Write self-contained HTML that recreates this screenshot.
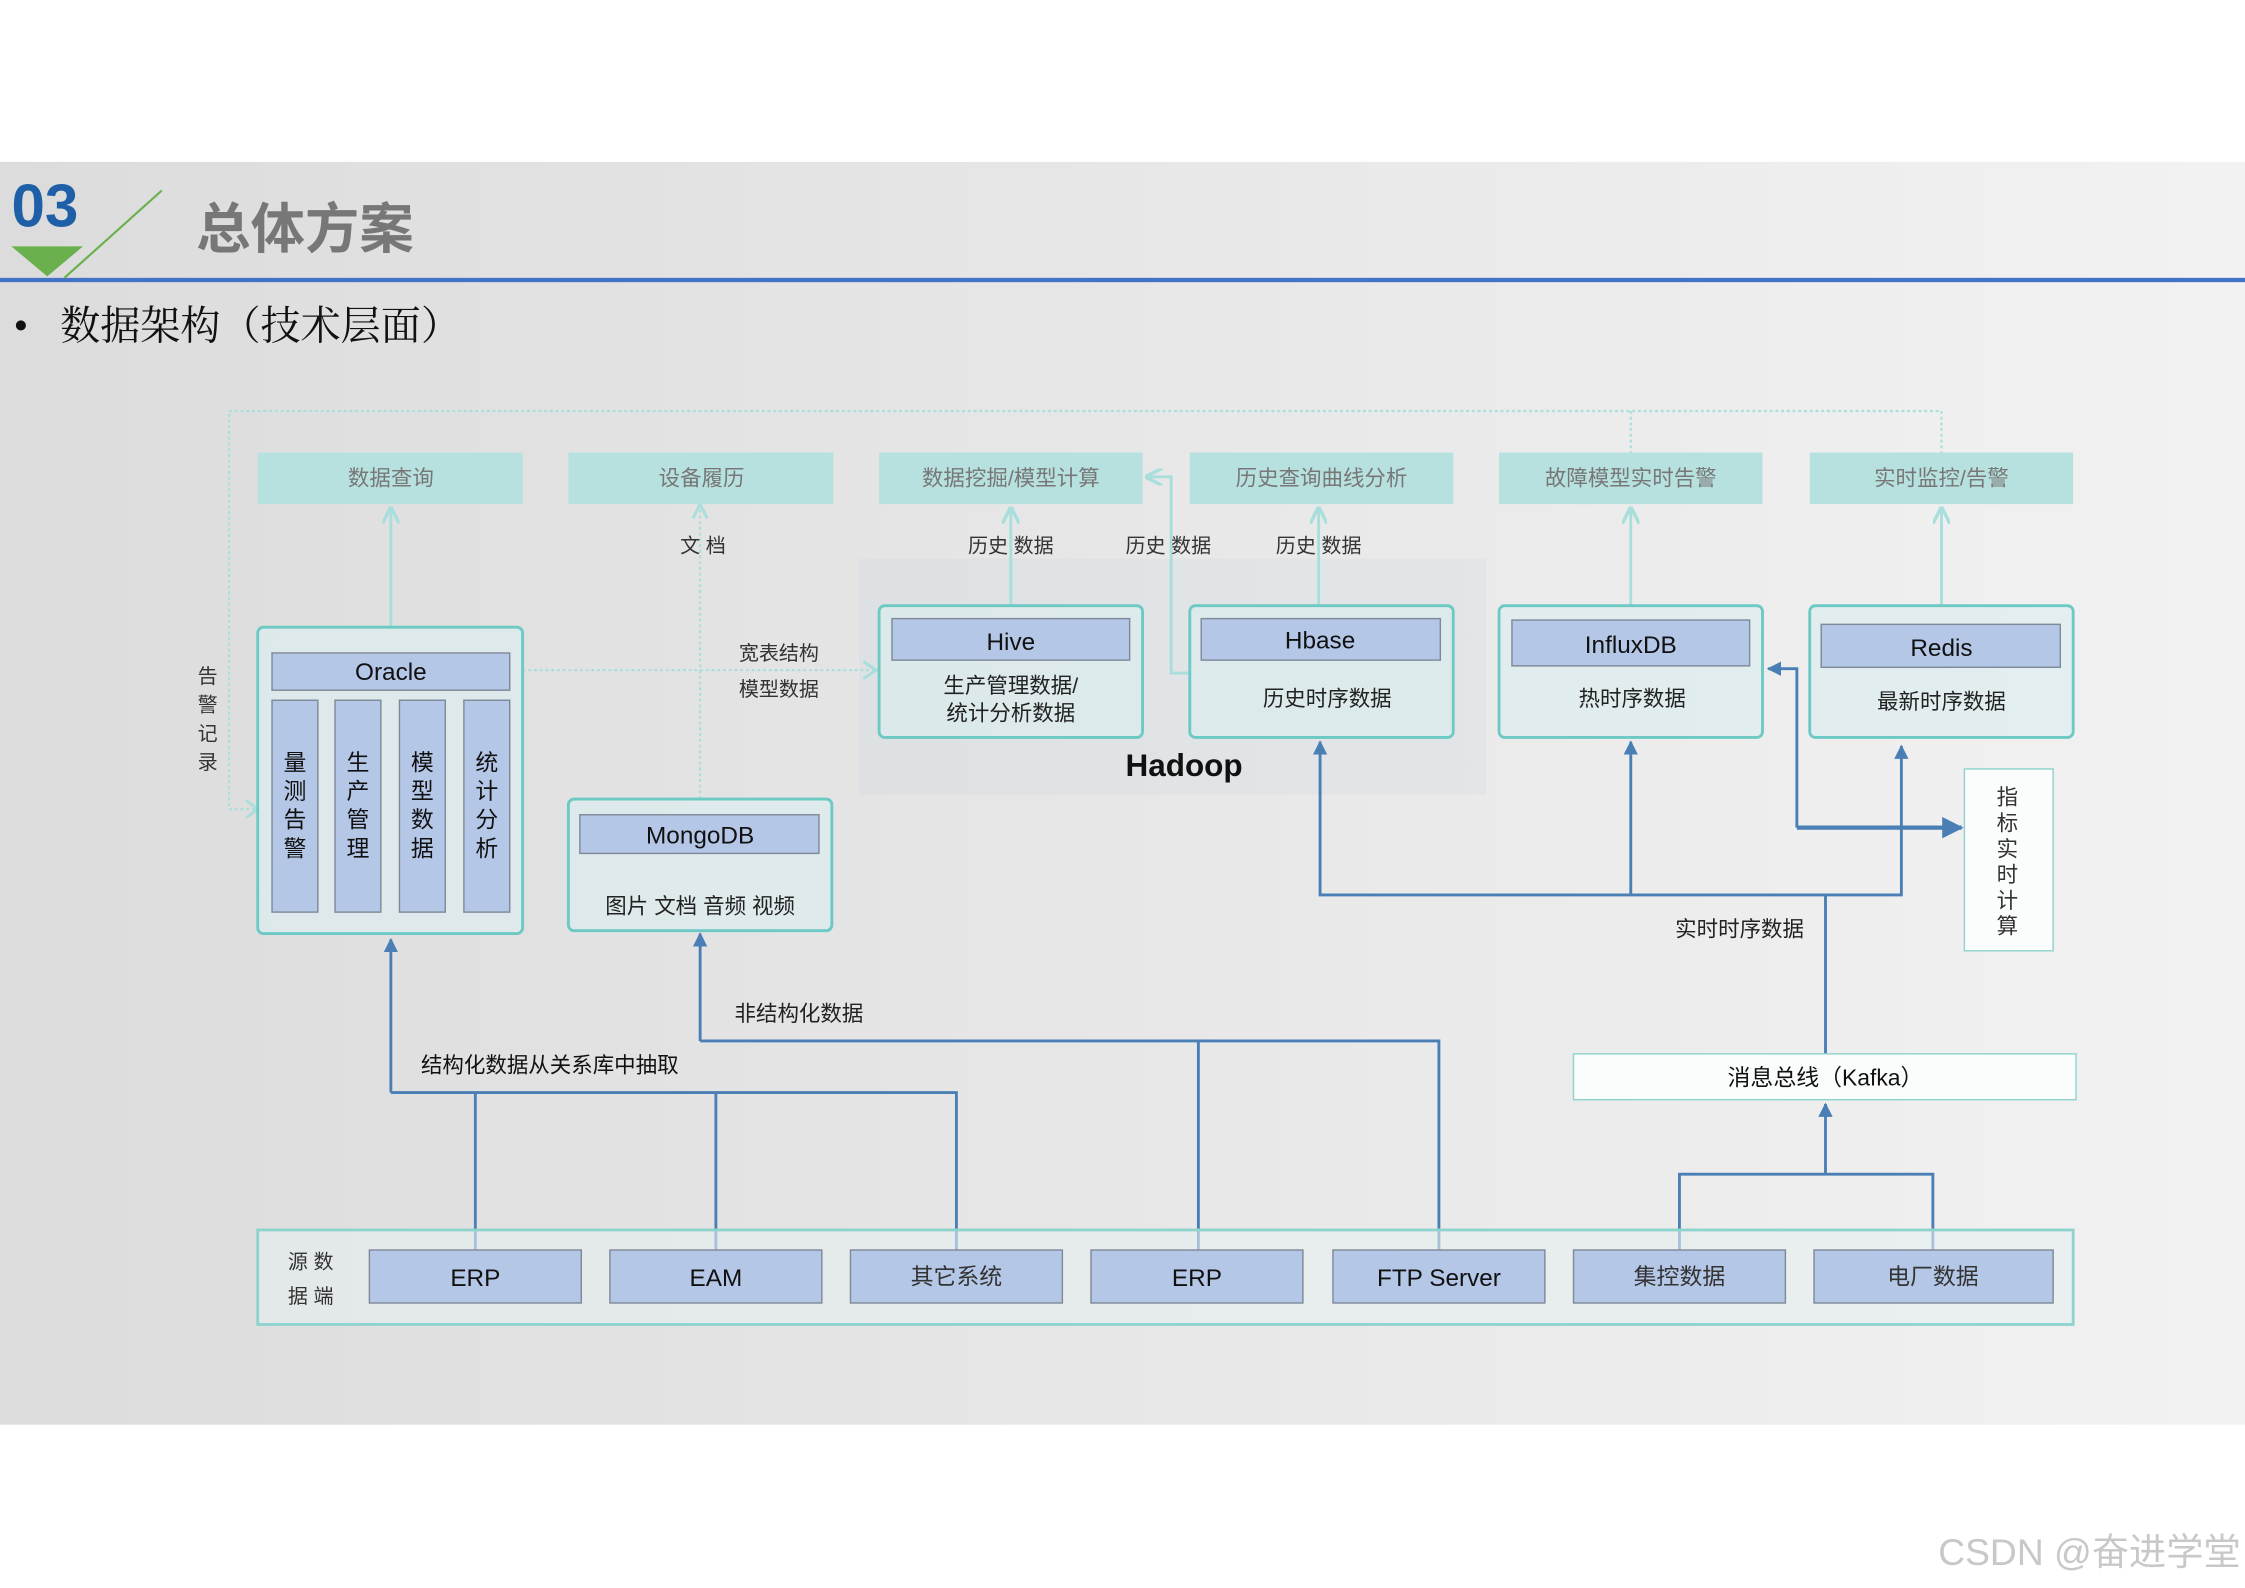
<!DOCTYPE html>
<html><head><meta charset="utf-8"><style>
html,body{margin:0;padding:0;background:#fff;width:2245px;height:1588px;overflow:hidden}
svg{display:block}
text{font-family:"Liberation Sans","Noto Sans CJK SC",sans-serif}
</style></head><body>
<svg width="2245" height="1588" viewBox="0 0 1568 1109" xmlns="http://www.w3.org/2000/svg">
<defs>
<linearGradient id="bg" x1="0" x2="1" y1="0" y2="0"><stop offset="0" stop-color="#dcdcdc"/><stop offset="1" stop-color="#f2f2f2"/></linearGradient>
<marker id="ab" viewBox="0 0 10 10" refX="9" refY="5" markerWidth="5" markerHeight="5" orient="auto"><path d="M0,0L10,5L0,10z" fill="#4a7fb5"/></marker>
<marker id="al" viewBox="0 0 10 10" refX="9" refY="5" markerWidth="6" markerHeight="6" orient="auto"><path d="M0,0L10,5L0,10" fill="none" stroke="#a8dedb" stroke-width="2"/></marker>
</defs>
<rect x="0" y="113" width="1568" height="882" fill="url(#bg)"/>
<rect x="0" y="194" width="1568" height="3" fill="#4472c4"/>
<text x="8" y="158" font-size="42" font-weight="bold" fill="#1f5fa8">03</text>
<path d="M8,172L58,172L33,193z" fill="#6ab04c"/>
<line x1="45" y1="194" x2="113" y2="133" stroke="#6ab04c" stroke-width="1.5"/>
<text x="137" y="173" font-size="38" font-weight="bold" fill="#777">总体方案</text>
<text x="10" y="236" font-size="26" fill="#111">•</text>
<text x="42" y="237" font-size="28" fill="#111" style="font-family:'Liberation Serif','Noto Serif CJK SC',serif">数据架构（技术层面）</text>
<!-- hadoop bg -->
<rect x="600" y="390" width="438" height="165" fill="#c9d7e0" opacity="0.22"/>
<!-- dotted outline -->
<g fill="none" stroke="#a8dedb" stroke-width="1.5" stroke-dasharray="2,2">
<path d="M178,565 L160,565 L160,287 L1356,287 L1356,316"/>
<path d="M1139,287 L1139,316"/>
<path d="M489,558 L489,356"/>
<path d="M365,468 L611,468"/>
</g>
<path d="M172,559L180,565L172,571" fill="none" stroke="#a8dedb" stroke-width="2"/>
<path d="M603,462L612,468L603,474" fill="none" stroke="#a8dedb" stroke-width="2"/>
<!-- light arrows -->
<g stroke="#a8dedb" stroke-width="2" fill="none">
<line x1="273" y1="438" x2="273" y2="355" marker-end="url(#al)"/>
<line x1="706" y1="423" x2="706" y2="355" marker-end="url(#al)"/>
<line x1="921" y1="423" x2="921" y2="355" marker-end="url(#al)"/>
<line x1="1139" y1="423" x2="1139" y2="355" marker-end="url(#al)"/>
<line x1="1356" y1="423" x2="1356" y2="355" marker-end="url(#al)"/>
<path d="M831,470 L818,470 L818,333 L801,333" marker-end="url(#al)"/>
<path d="M484,362L489,352L494,362"/>
</g>
<!-- top boxes -->
<g fill="#b7e1df"><rect x="180" y="316" width="185" height="36"/><rect x="397" y="316" width="185" height="36"/><rect x="614" y="316" width="184" height="36"/><rect x="831" y="316" width="184" height="36"/><rect x="1047" y="316" width="184" height="36"/><rect x="1264" y="316" width="184" height="36"/></g>
<g font-size="15" fill="#777" text-anchor="middle"><text x="273" y="339">数据查询</text><text x="490" y="339">设备履历</text><text x="706" y="339">数据挖掘/模型计算</text><text x="923" y="339">历史查询曲线分析</text><text x="1139" y="339">故障模型实时告警</text><text x="1356" y="339">实时监控/告警</text></g>
<g font-size="14" fill="#333" text-anchor="middle"><text x="491" y="386">文  档</text><text x="706" y="386">历史  数据</text><text x="816" y="386">历史  数据</text><text x="921" y="386">历史  数据</text><text x="544" y="461">宽表结构</text><text x="544" y="486">模型数据</text>
<text x="145" y="477">告</text><text x="145" y="497">警</text><text x="145" y="517">记</text><text x="145" y="537">录</text></g>
<!-- containers -->
<g fill="#dcecee" fill-opacity="0.7" stroke="#6cc9c3" stroke-width="2">
<rect x="180" y="438" width="185" height="214" rx="4"/>
<rect x="397" y="558" width="184" height="92" rx="4"/>
<rect x="614" y="423" width="184" height="92" rx="4"/>
<rect x="831" y="423" width="184" height="92" rx="4"/>
<rect x="1047" y="423" width="184" height="92" rx="4"/>
<rect x="1264" y="423" width="184" height="92" rx="4"/>
</g>
<g fill="#b4c7e7" stroke="#7f8a99" stroke-width="1">
<rect x="190" y="456" width="166" height="26"/>
<rect x="190" y="489" width="32" height="148"/><rect x="234" y="489" width="32" height="148"/><rect x="279" y="489" width="32" height="148"/><rect x="324" y="489" width="32" height="148"/>
<rect x="405" y="569" width="167" height="27"/>
<rect x="623" y="432" width="166" height="29"/>
<rect x="839" y="432" width="167" height="29"/>
<rect x="1056" y="433" width="166" height="32"/>
<rect x="1272" y="436" width="167" height="30"/>
</g>
<g font-size="17" fill="#111" text-anchor="middle">
<text x="273" y="475">Oracle</text><text x="489" y="589">MongoDB</text><text x="706" y="454">Hive</text><text x="922" y="453">Hbase</text><text x="1139" y="456">InfluxDB</text><text x="1356" y="458">Redis</text>
</g>
<g font-size="16" fill="#111" text-anchor="middle">
<text x="206" y="538">量</text><text x="206" y="558">测</text><text x="206" y="578">告</text><text x="206" y="598">警</text>
<text x="250" y="538">生</text><text x="250" y="558">产</text><text x="250" y="578">管</text><text x="250" y="598">理</text>
<text x="295" y="538">模</text><text x="295" y="558">型</text><text x="295" y="578">数</text><text x="295" y="598">据</text>
<text x="340" y="538">统</text><text x="340" y="558">计</text><text x="340" y="578">分</text><text x="340" y="598">析</text>
</g>
<g font-size="15" fill="#222" text-anchor="middle">
<text x="489" y="638">图片 文档 音频 视频</text><text x="706" y="484">生产管理数据/</text><text x="706" y="503">统计分析数据</text><text x="927" y="493">历史时序数据</text><text x="1140" y="493">热时序数据</text><text x="1356" y="495">最新时序数据</text>
</g>
<text x="827" y="542" font-size="22" font-weight="bold" fill="#111" text-anchor="middle">Hadoop</text>
<!-- dark blue lines -->
<g stroke="#4a7fb5" stroke-width="2" fill="none">
<path d="M273,763 L273,656" marker-end="url(#ab)"/>
<path d="M273,763 L668,763 L668,873 M332,763 L332,873 M500,763 L500,873"/>
<path d="M489,727 L489,652" marker-end="url(#ab)"/>
<path d="M489,727 L1005,727 L1005,873 M837,727 L837,873"/>
<path d="M1275,820 L1275,771" marker-end="url(#ab)"/>
<path d="M1173,873 L1173,820 L1350,820 L1350,873"/>
<path d="M1275,736 L1275,625 L922,625 L922,518" marker-end="url(#ab)"/>
<path d="M1139,625 L1139,518" marker-end="url(#ab)"/>
<path d="M1275,625 L1328,625 L1328,521" marker-end="url(#ab)"/>
<path d="M1255,578 L1255,467 L1235,467" marker-end="url(#ab)"/>
<path d="M1255,578 L1370,578" stroke-width="3" marker-end="url(#ab)"/>
</g>
<text x="1215" y="654" font-size="15" fill="#222" text-anchor="middle">实时时序数据</text>
<text x="558" y="713" font-size="15" fill="#222" text-anchor="middle">非结构化数据</text>
<text x="384" y="749" font-size="15" fill="#111" text-anchor="middle">结构化数据从关系库中抽取</text>
<!-- indicator box -->
<rect x="1372" y="537" width="62" height="127" fill="#fbfcfc" stroke="#8fd3cf" stroke-width="1"/>
<g font-size="15" fill="#333" text-anchor="middle"><text x="1402" y="562">指</text><text x="1402" y="580">标</text><text x="1402" y="598">实</text><text x="1402" y="616">时</text><text x="1402" y="634">计</text><text x="1402" y="652">算</text></g>
<!-- kafka -->
<rect x="1099" y="736" width="351" height="32" fill="#fbfcfc" stroke="#8fd3cf" stroke-width="1"/>
<text x="1275" y="758" font-size="16" fill="#111" text-anchor="middle">消息总线（Kafka）</text>
<!-- source bar -->
<rect x="180" y="859" width="1268" height="66" fill="#e6eef0" fill-opacity="0.6" stroke="#8fd3cf" stroke-width="2"/>
<g font-size="14" fill="#333" text-anchor="middle"><text x="217" y="886">源 数</text><text x="217" y="910">据 端</text></g>
<g fill="#b4c7e7" stroke="#7f8a99" stroke-width="1">
<rect x="258" y="873" width="148" height="37"/><rect x="426" y="873" width="148" height="37"/><rect x="594" y="873" width="148" height="37"/><rect x="762" y="873" width="148" height="37"/><rect x="931" y="873" width="148" height="37"/><rect x="1099" y="873" width="148" height="37"/><rect x="1267" y="873" width="167" height="37"/>
</g>
<g font-size="17" fill="#111" text-anchor="middle">
<text x="332" y="898">ERP</text><text x="500" y="898">EAM</text><text x="668" y="897" fill="#333" font-size="16">其它系统</text><text x="836" y="898">ERP</text><text x="1005" y="898">FTP Server</text><text x="1173" y="897" fill="#333" font-size="16">集控数据</text><text x="1350" y="897" fill="#333" font-size="16">电厂数据</text>
</g>
<text x="1565" y="1093" font-size="26" fill="#c8c8c8" text-anchor="end">CSDN @奋进学堂</text>
</svg>
</body></html>
